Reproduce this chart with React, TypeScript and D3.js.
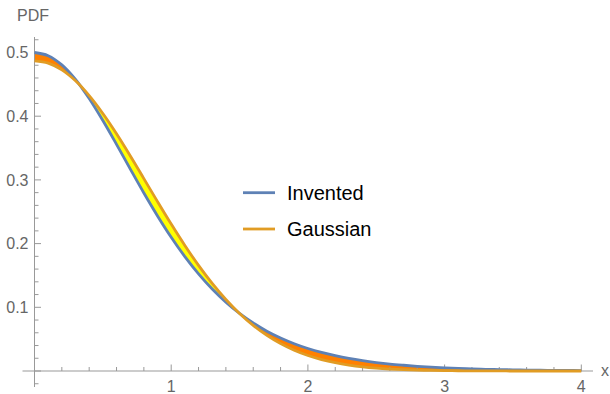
import React from 'react';
import * as d3 from 'd3';

const xValues = [0, 0.1, 0.2, 0.3, 0.4, 0.5, 0.6, 0.7, 0.8, 0.9, 1, 1.1, 1.2, 1.3, 1.4, 1.5, 1.6, 1.7, 1.8, 1.9, 2, 2.1, 2.2, 2.3, 2.4, 2.5, 2.6, 2.7, 2.8, 2.9, 3, 3.1, 3.2, 3.3, 3.4, 3.5, 3.6, 3.7, 3.8, 3.9, 4];
const invented = [0.5, 0.495, 0.4805, 0.4576, 0.4278, 0.3932, 0.3558, 0.3174, 0.2795, 0.2435, 0.21, 0.1796, 0.1525, 0.1287, 0.1081, 0.0904, 0.0753, 0.0625, 0.0518, 0.0428, 0.0353, 0.0291, 0.024, 0.0197, 0.0162, 0.0133, 0.0109, 0.009, 0.0073, 0.006, 0.0049, 0.004, 0.0033, 0.0027, 0.0022, 0.0018, 0.0015, 0.0012, 0.001, 0.0008, 0.0007];
const gaussian = [0.487, 0.4834, 0.4727, 0.4555, 0.4323, 0.4043, 0.3725, 0.338, 0.302, 0.2659, 0.2306, 0.197, 0.1658, 0.1375, 0.1123, 0.0903, 0.0716, 0.0559, 0.043, 0.0326, 0.0243, 0.0179, 0.013, 0.0093, 0.0065, 0.0045, 0.0031, 0.0021, 0.0014, 0.0009, 0.0006, 0.0004, 0.0002, 0.0001, 0.0001, 0, 0, 0, 0, 0, 0];
const seriesNames = ['Invented', 'Gaussian'];
const xTickValues = [1, 2, 3, 4];
const yTickValues = [0.1, 0.2, 0.3, 0.4, 0.5];
const xLabel = 'x';
const yLabel = 'PDF';

const BLUE = '#5E81B5';
const ORANGE = '#E19C24';
const AXIS = '#999999';
const LABEL = '#666666';
const FONT = '"Liberation Sans", Arial, Helvetica, sans-serif';

export default function App() {
  const W = 610, H = 394;
  const x = d3.scaleLinear().domain([0, 4]).range([34.5, 581.3]);
  const y = d3.scaleLinear().domain([0, 0.5]).range([371, 52.5]);

  const pts = xValues.map((xv, i) => ({ x: xv, f: invented[i], g: gaussian[i] }));
  const curve = d3.curveCatmullRom.alpha(0.5);

  const band = d3.area<any>().x(d => x(d.x)).y0(d => y(d.f)).y1(d => y(d.g)).curve(curve)(pts) || '';
  const aboveF = d3.area<any>().x(d => x(d.x)).y0(d => y(d.f)).y1(() => -10).curve(curve)(pts) || '';
  const belowF = d3.area<any>().x(d => x(d.x)).y0(d => y(d.f)).y1(() => H + 10).curve(curve)(pts) || '';
  const lineF = d3.line<any>().x(d => x(d.x)).y(d => y(d.f)).curve(curve)(pts) || '';
  const lineG = d3.line<any>().x(d => x(d.x)).y(d => y(d.g)).curve(curve)(pts) || '';

  const xMinor = d3.range(1, 20).map(i => i * 0.2).filter(v => Math.abs(v - Math.round(v)) > 1e-6);
  const yMinor = d3.range(-1, 27).map(i => i * 0.02).filter(v => Math.abs(v * 10 - Math.round(v * 10)) > 1e-6);

  const x0 = x(0), y0 = y(0);

  return (
    <svg width={W} height={H} style={{ position: 'absolute', left: 0, top: 0 }} fontFamily={FONT}>
      <defs>
        <clipPath id="clipAbove"><path d={aboveF} /></clipPath>
        <clipPath id="clipBelow"><path d={belowF} /></clipPath>
      </defs>
      {/* fills */}
      <path d={band} fill="#FFFF00" clipPath="url(#clipAbove)" />
      <path d={band} fill="#FF8000" clipPath="url(#clipBelow)" />

      {/* axes */}
      <line x1={22.5} x2={593} y1={y0} y2={y0} stroke={AXIS} strokeWidth={1} />
      <line x1={x0} x2={x0} y1={37} y2={387} stroke={AXIS} strokeWidth={1} />
      <line x1={x0} x2={x0 + 6.5} y1={y0} y2={y0} stroke={AXIS} strokeWidth={1} />
      {xMinor.map(v => (
        <line key={'xm' + v} x1={x(v)} x2={x(v)} y1={y0} y2={y0 - 4} stroke={AXIS} strokeWidth={1} />
      ))}
      {xTickValues.map(v => (
        <g key={'xt' + v}>
          <line x1={x(v)} x2={x(v)} y1={y0} y2={y0 - 6.5} stroke={AXIS} strokeWidth={1} />
          <text x={x(v)} y={391.5} textAnchor="middle" fontSize={16} fill={LABEL}>{v}</text>
        </g>
      ))}
      {yMinor.map(v => (
        <line key={'ym' + v} x1={x0} x2={x0 + 4} y1={y(v)} y2={y(v)} stroke={AXIS} strokeWidth={1} />
      ))}
      {yTickValues.map(v => (
        <g key={'yt' + v}>
          <line x1={x0} x2={x0 + 6.5} y1={y(v)} y2={y(v)} stroke={AXIS} strokeWidth={1} />
          <text x={28.5} y={y(v) + 5.6} textAnchor="end" fontSize={16} fill={LABEL}>{v.toFixed(1)}</text>
        </g>
      ))}
      <text x={17} y={20.5} fontSize={16} fill={LABEL}>{yLabel}</text>
      <text x={601} y={376} fontSize={16} fill={LABEL}>{xLabel}</text>

      {/* curves */}
      <path d={lineF} fill="none" stroke={BLUE} strokeWidth={2.8} />
      <path d={lineG} fill="none" stroke={ORANGE} strokeWidth={2.8} />

      {/* legend */}
      {seriesNames.map((name, i) => (
        <g key={name} transform={`translate(0, ${192.7 + i * 36.3})`}>
          <line x1={243} x2={275} y1={0} y2={0} stroke={i === 0 ? BLUE : ORANGE} strokeWidth={2.8} />
          <text x={287} y={7.3} fontSize={20} fill="#000">{name}</text>
        </g>
      ))}
    </svg>
  );
}
